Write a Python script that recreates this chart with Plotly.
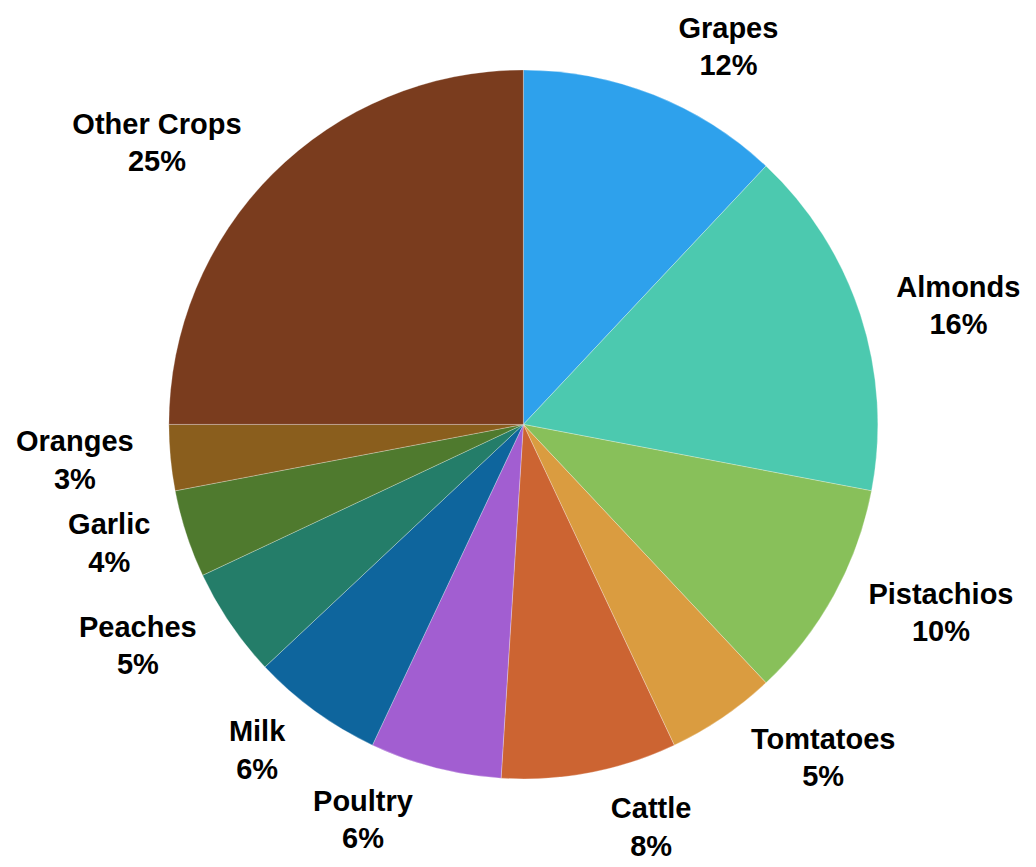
import plotly.graph_objects as go

# Crop shares (clockwise from 12 o'clock)
crops = ['Grapes', 'Almonds', 'Pistachios', 'Tomtatoes', 'Cattle', 'Poultry',
         'Milk', 'Peaches', 'Garlic', 'Oranges', 'Other Crops']
shares = [12, 16, 10, 5, 8, 6, 6, 5, 4, 3, 25]

slice_colors = ['#2EA1EC', '#4CC9AF', '#88C05A', '#DA9C40', '#CC6432', '#A25ED1',
                '#0E659D', '#247D69', '#4F7A2E', '#8A5E1D', '#7A3C1E']

labels_text = [f'<b>{c}<br>{s}%</b>' for c, s in zip(crops, shares)]

W, H = 1036, 867
cx, cy, r = 530, 437, 365   # pie centre / radius in pixels
r_lab = r + 20              # labels sit a bit further out than plotly's default


def dom(rad):
    return dict(x=[(cx - rad) / W, (cx + rad) / W],
                y=[1 - (cy + rad) / H, 1 - (cy - rad) / H])


fig = go.Figure()

# invisible, slightly larger pie that only carries the outside labels
fig.add_trace(
    go.Pie(labels=crops, values=shares,
           text=labels_text, textinfo='text',
           textposition='outside',
           textfont=dict(family='Liberation Sans, Arial', size=29, color='black'),
           marker=dict(colors=['rgba(0,0,0,0)'] * len(crops), line=dict(width=0)),
           sort=False, direction='clockwise', rotation=0,
           showlegend=False, hoverinfo='skip',
           domain=dom(r_lab))
)

# visible pie
fig.add_trace(
    go.Pie(labels=crops, values=shares,
           textinfo='none',
           marker=dict(colors=slice_colors,
                       line=dict(color='rgba(255,255,255,0.35)', width=0.8)),
           sort=False, direction='clockwise', rotation=0,
           showlegend=False, hoverinfo='label+percent',
           domain=dom(r))
)

fig.update_layout(
    width=W, height=H,
    margin=dict(l=0, r=0, t=0, b=0),
    paper_bgcolor='white',
    plot_bgcolor='white',
)

# no page margin, and hide the connector lines plotly adds when it nudges labels apart
page_css = ("var s=document.createElement('style');"
            "s.innerHTML='body{margin:0;overflow:hidden} path.textline{display:none}';"
            "document.head.appendChild(s);")

fig.write_html('out.html', post_script=page_css, config={'displayModeBar': False})
